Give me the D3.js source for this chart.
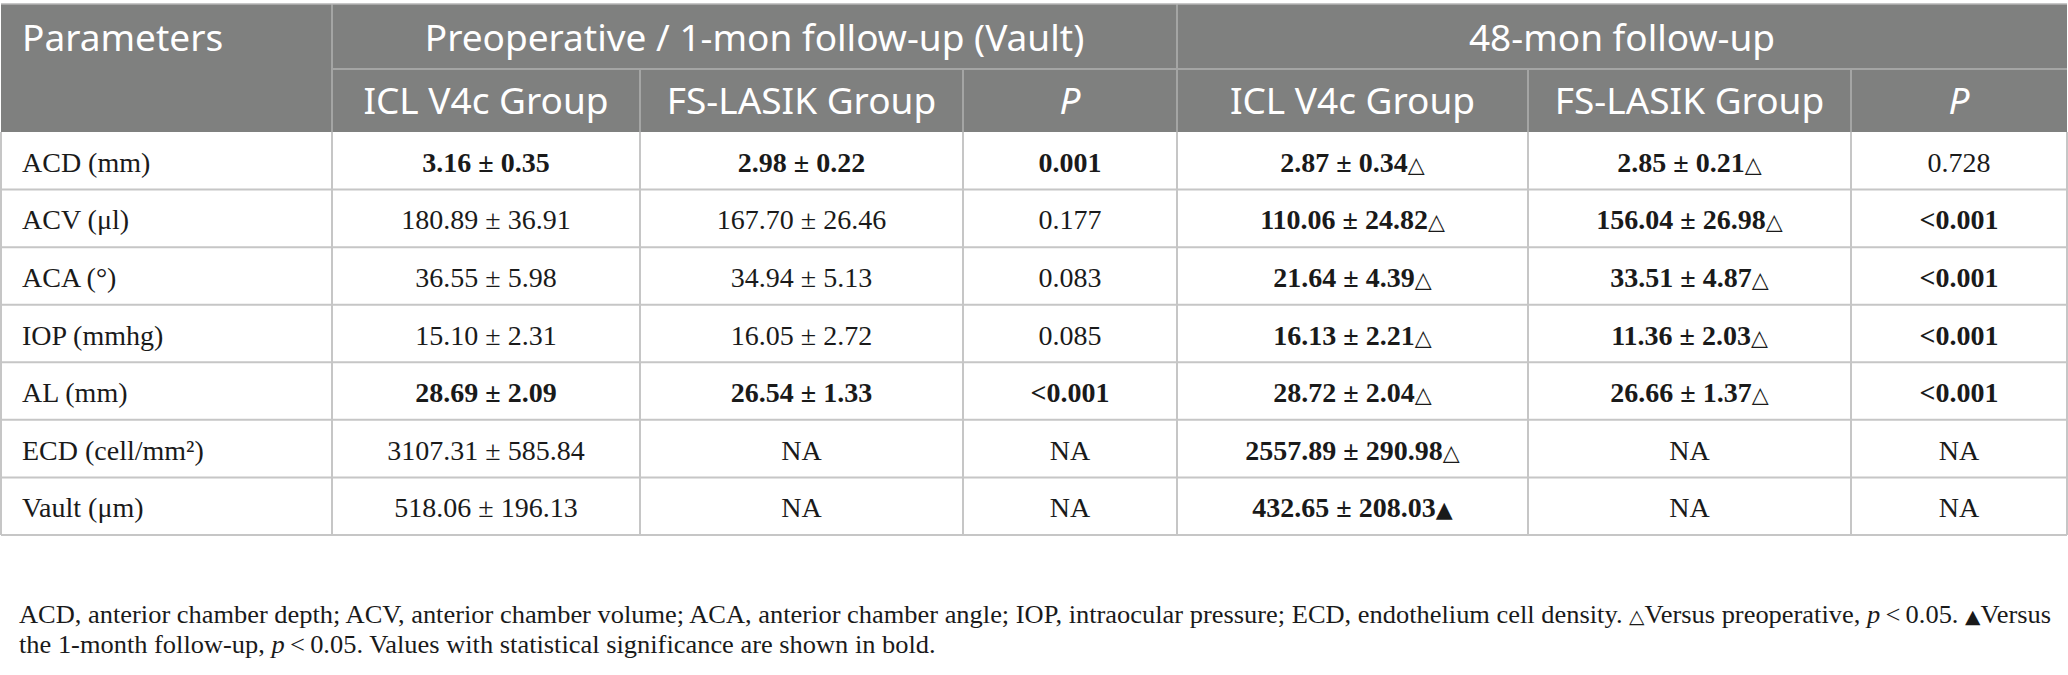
<!DOCTYPE html>
<html>
<head>
<meta charset="utf-8">
<script src="https://cdn.jsdelivr.net/npm/d3@7"></script>
<style>
  body { margin: 0; background: #fff; }
  svg { display: block; }
</style>
</head>
<body>
<div id="table-area"></div>
<script>
const SIZE = { width: 2068, height: 675 };
const TABLE = { left: 1, top: 4, headSplit: 69, headBottom: 132, bottom: 535 };
const COL_WIDTHS = [331, 308, 323, 214, 351, 323, 216];
const FOOT = { x: 19, y: 623, lineGap: 30, width: 2032 };

const HEAD_FONT = "'Noto Sans', 'Open Sans', sans-serif";
const BODY_FONT = "'Liberation Serif', 'Times New Roman', serif";

// data
const groupHeads = ["Preoperative / 1-mon follow-up (Vault)", "48-mon follow-up"];
const columnHeads = ["ICL V4c Group", "FS-LASIK Group", "P", "ICL V4c Group", "FS-LASIK Group", "P"];
const params = ["ACD (mm)", "ACV (\u03bcl)", "ACA (\u00b0)", "IOP (mmhg)", "AL (mm)", "ECD (cell/mm\u00b2)", "Vault (\u03bcm)"];
const preIcl = ["3.16 \u00b1 0.35", "180.89 \u00b1 36.91", "36.55 \u00b1 5.98", "15.10 \u00b1 2.31", "28.69 \u00b1 2.09", "3107.31 \u00b1 585.84", "518.06 \u00b1 196.13"];
const preLasik = ["2.98 \u00b1 0.22", "167.70 \u00b1 26.46", "34.94 \u00b1 5.13", "16.05 \u00b1 2.72", "26.54 \u00b1 1.33", "NA", "NA"];
const preP = ["0.001", "0.177", "0.083", "0.085", "<0.001", "NA", "NA"];
const postIcl = ["2.87 \u00b1 0.34", "110.06 \u00b1 24.82", "21.64 \u00b1 4.39", "16.13 \u00b1 2.21", "28.72 \u00b1 2.04", "2557.89 \u00b1 290.98", "432.65 \u00b1 208.03"];
const postLasik = ["2.85 \u00b1 0.21", "156.04 \u00b1 26.98", "33.51 \u00b1 4.87", "11.36 \u00b1 2.03", "26.66 \u00b1 1.37", "NA", "NA"];
const postP = ["0.728", "<0.001", "<0.001", "<0.001", "<0.001", "NA", "NA"];
const postIclMark = ["\u25b3", "\u25b3", "\u25b3", "\u25b3", "\u25b3", "\u25b3", "\u25b2"];
const postLasikMark = ["\u25b3", "\u25b3", "\u25b3", "\u25b3", "\u25b3", "", ""];
const boldPre = [true, false, false, false, true, false, false];
const boldPostIcl = [true, true, true, true, true, true, true];
const boldPostLasik = [true, true, true, true, true, false, false];
const boldPostP = [false, true, true, true, true, false, false];
const noMark = params.map(() => "");

const footLines = [
  [["ACD, anterior chamber depth; ACV, anterior chamber volume; ACA, anterior chamber angle; IOP, intraocular pressure; ECD, endothelium cell density. "], ["\u25b3", "mark"], ["Versus preoperative, "], ["p", "italic"], ["\u2009<\u20090.05. "], ["\u25b2", "mark"], ["Versus"]],
  [["the 1-month follow-up, "], ["p", "italic"], ["\u2009<\u20090.05. Values with statistical significance are shown in bold."]]
];

const bodyColumns = [
  { values: preIcl, bold: boldPre, mark: noMark },
  { values: preLasik, bold: boldPre, mark: noMark },
  { values: preP, bold: boldPre, mark: noMark },
  { values: postIcl, bold: boldPostIcl, mark: postIclMark },
  { values: postLasik, bold: boldPostLasik, mark: postLasikMark },
  { values: postP, bold: boldPostP, mark: noMark }
];

const colEdges = [TABLE.left, ...d3.cumsum(COL_WIDTHS).map(w => TABLE.left + w)];
const right = colEdges[colEdges.length - 1];
const colCenter = i => (colEdges[i] + colEdges[i + 1]) / 2;

const y = d3.scaleBand().domain(params).range([TABLE.headBottom, TABLE.bottom]);

const svg = d3.select("#table-area").append("svg")
  .attr("width", SIZE.width)
  .attr("height", SIZE.height);

// header block
svg.append("rect")
  .attr("x", TABLE.left).attr("y", TABLE.top)
  .attr("width", right - TABLE.left).attr("height", TABLE.headBottom - TABLE.top)
  .attr("fill", "#7f807f");

const headLines = svg.append("g").attr("stroke", "#a4a5a4").attr("stroke-width", 2);
headLines.append("line")
  .attr("x1", colEdges[1]).attr("x2", right)
  .attr("y1", TABLE.headSplit).attr("y2", TABLE.headSplit);
[1, 4].forEach(i => headLines.append("line")
  .attr("x1", colEdges[i]).attr("x2", colEdges[i])
  .attr("y1", TABLE.top).attr("y2", TABLE.headBottom));
[2, 3, 5, 6].forEach(i => headLines.append("line")
  .attr("x1", colEdges[i]).attr("x2", colEdges[i])
  .attr("y1", TABLE.headSplit).attr("y2", TABLE.headBottom));

const headText = svg.append("g")
  .attr("font-family", HEAD_FONT)
  .attr("font-size", 37)
  .attr("fill", "#ffffff");

headText.append("text")
  .attr("x", 22).attr("y", 51)
  .text("Parameters");

headText.selectAll(".group")
  .data(groupHeads)
  .join("text")
  .attr("class", "group")
  .attr("x", (d, i) => i === 0 ? (colEdges[1] + colEdges[4]) / 2 : (colEdges[4] + right) / 2)
  .attr("y", 51)
  .attr("text-anchor", "middle")
  .text(d => d);

headText.selectAll(".col")
  .data(columnHeads)
  .join("text")
  .attr("class", "col")
  .attr("x", (d, i) => colCenter(i + 1))
  .attr("y", 114)
  .attr("text-anchor", "middle")
  .attr("font-style", d => d === "P" ? "italic" : "normal")
  .text(d => d);

// body grid
const grid = svg.append("g").attr("stroke", "#c6c6c6").attr("stroke-width", 2).attr("fill", "none");
params.forEach(p => grid.append("line")
  .attr("x1", TABLE.left).attr("x2", right)
  .attr("y1", y(p) + y.bandwidth()).attr("y2", y(p) + y.bandwidth()));
colEdges.forEach(x => grid.append("line")
  .attr("x1", x).attr("x2", x)
  .attr("y1", TABLE.headBottom).attr("y2", TABLE.bottom));
svg.append("line")
  .attr("x1", TABLE.left).attr("x2", right)
  .attr("y1", TABLE.top).attr("y2", TABLE.top)
  .attr("stroke", "#b5b5b5").attr("stroke-width", 1.5);

// body text
const body = svg.append("g")
  .attr("font-family", BODY_FONT)
  .attr("font-size", 28)
  .attr("fill", "#1a1a1a");

body.selectAll(".param")
  .data(params)
  .join("text")
  .attr("class", "param")
  .attr("x", 22)
  .attr("y", d => y(d) + y.bandwidth() / 2 + 11)
  .text(d => d);

bodyColumns.forEach((col, ci) => {
  const cells = body.selectAll(`.c${ci}`)
    .data(params)
    .join("text")
    .attr("class", `c${ci}`)
    .attr("x", colCenter(ci + 1))
    .attr("y", d => y(d) + y.bandwidth() / 2 + 11)
    .attr("text-anchor", "middle")
    .attr("font-weight", (d, i) => col.bold[i] ? "bold" : "normal");
  cells.append("tspan").text((d, i) => col.values[i]);
  cells.filter((d, i) => col.mark[i])
    .append("tspan")
    .attr("font-family", "'DejaVu Sans', sans-serif")
    .attr("font-size", 22)
    .attr("font-weight", "normal")
    .text(d => col.mark[params.indexOf(d)]);
});

// footnote
const foot = svg.append("g")
  .attr("font-family", BODY_FONT)
  .attr("font-size", 25)
  .attr("fill", "#1a1a1a");

const footText = foot.selectAll("text")
  .data(footLines)
  .join("text")
  .attr("x", FOOT.x)
  .attr("y", (d, i) => FOOT.y + i * FOOT.lineGap);

footText.selectAll("tspan")
  .data(d => d)
  .join("tspan")
  .attr("font-style", d => d[1] === "italic" ? "italic" : null)
  .attr("font-family", d => d[1] === "mark" ? "'DejaVu Sans', sans-serif" : null)
  .attr("font-size", d => d[1] === "mark" ? 19 : null)
  .text(d => d[0]);

// stretch the lines to the width the first one has in the reference
const natural = footText.nodes().map(n => n.getComputedTextLength());
const ratio = FOOT.width / natural[0];
footText
  .attr("textLength", (d, i) => (natural[i] * ratio).toFixed(1))
  .attr("lengthAdjust", "spacingAndGlyphs");
</script>
</body>
</html>
